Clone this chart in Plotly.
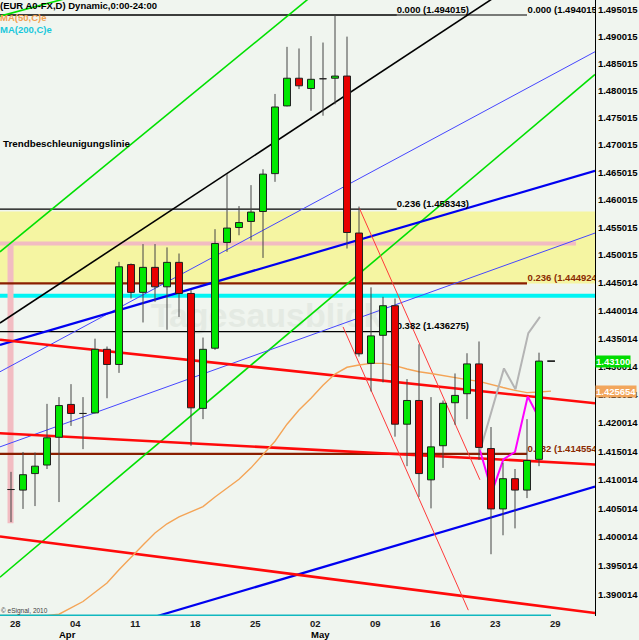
import math
import plotly.graph_objects as go

# ---------------- data ----------------
dates = [
    "2011-03-28", "2011-03-29", "2011-03-30", "2011-03-31", "2011-04-01",
    "2011-04-04", "2011-04-05", "2011-04-06", "2011-04-07", "2011-04-08",
    "2011-04-11", "2011-04-12", "2011-04-13", "2011-04-14", "2011-04-15",
    "2011-04-18", "2011-04-19", "2011-04-20", "2011-04-21", "2011-04-22",
    "2011-04-25", "2011-04-26", "2011-04-27", "2011-04-28", "2011-04-29",
    "2011-05-02", "2011-05-03", "2011-05-04", "2011-05-05", "2011-05-06",
    "2011-05-09", "2011-05-10", "2011-05-11", "2011-05-12", "2011-05-13",
    "2011-05-16", "2011-05-17", "2011-05-18", "2011-05-19", "2011-05-20",
    "2011-05-23", "2011-05-24", "2011-05-25", "2011-05-26", "2011-05-27",
]
prev_session = "2011-03-25"
next_session = "2011-05-30"

opens = [1.4083, 1.4082, 1.4111, 1.4126, 1.4175, 1.4233, 1.4217, 1.4218, 1.4331, 1.4304,
         1.4483, 1.4433, 1.4478, 1.4443, 1.4487, 1.4431, 1.4226, 1.4333, 1.4523, 1.4550,
         1.4561, 1.4579, 1.4648, 1.4772, 1.4823, 1.4804, 1.4822, 1.4823, 1.4827, 1.4540,
         1.4306, 1.4356, 1.4409, 1.4198, 1.4240, 1.4100, 1.4160, 1.4236, 1.4252, 1.4305,
         1.4155, 1.4049, 1.4102, 1.4082, 1.4136]
highs = [1.4114, 1.4149, 1.4148, 1.4234, 1.4246, 1.4269, 1.4246, 1.4350, 1.4336, 1.4488,
         1.4485, 1.4520, 1.4520, 1.4514, 1.4503, 1.4437, 1.4352, 1.4547, 1.4647, 1.4589,
         1.4627, 1.4656, 1.4794, 1.4881, 1.4878, 1.4901, 1.4889, 1.4940, 1.4900, 1.4588,
         1.4442, 1.4425, 1.4422, 1.4278, 1.4340, 1.4246, 1.4240, 1.4288, 1.4324, 1.4345,
         1.4193, 1.4130, 1.4119, 1.4207, 1.4325]
lows = [1.4026, 1.4049, 1.4054, 1.4119, 1.4061, 1.4195, 1.4154, 1.4217, 1.4244, 1.4289,
        1.4422, 1.4379, 1.4416, 1.4366, 1.4389, 1.4160, 1.4207, 1.4330, 1.4506, 1.4536,
        1.4527, 1.4495, 1.4633, 1.4771, 1.4803, 1.4763, 1.4754, 1.4775, 1.4512, 1.4318,
        1.4256, 1.4272, 1.4176, 1.4124, 1.4070, 1.4050, 1.4121, 1.4197, 1.4207, 1.4135,
        1.3970, 1.4003, 1.4015, 1.4068, 1.4124]
closes = [1.4083, 1.4109, 1.4124, 1.4174, 1.4231, 1.4217, 1.4217, 1.4331, 1.4304, 1.4479,
          1.4433, 1.4478, 1.4443, 1.4487, 1.4431, 1.4227, 1.4331, 1.4521, 1.4549, 1.4559,
          1.4578, 1.4647, 1.4770, 1.4823, 1.4809, 1.4821, 1.4822, 1.4827, 1.4541, 1.4323,
          1.4355, 1.4409, 1.4198, 1.4240, 1.4111, 1.4158, 1.4235, 1.4249, 1.4305, 1.4157,
          1.4049, 1.4102, 1.4082, 1.4134, 1.4310]

# MA(50): one value per session slot from the previous session to the next one;
# early values sit on the chart floor
ma50 = [1.3864,
        1.3864, 1.3864, 1.3864, 1.3864, 1.3866, 1.3877, 1.3888, 1.3904, 1.3920, 1.3943,
        1.3965, 1.3986, 1.4007, 1.4023, 1.4035, 1.4044, 1.4053, 1.4070, 1.4086, 1.4101,
        1.4121, 1.4144, 1.4168, 1.4198, 1.4223, 1.4244, 1.4267, 1.4287, 1.4299, 1.4303,
        1.4306, 1.4306, 1.4302, 1.4296, 1.4291, 1.4288, 1.4284, 1.4281, 1.4277, 1.4274,
        1.4268, 1.4263, 1.4258, 1.4254, 1.4255, 1.425654]
# MA(200) is below the visible range and is drawn on the floor
ma200_dates = [prev_session, next_session]
ma200 = [1.3864, 1.3864]

last_price = 1.43100
last_ma50 = 1.425654

tick_dates = ["2011-03-28", "2011-04-04", "2011-04-11", "2011-04-18", "2011-04-25",
              "2011-05-02", "2011-05-09", "2011-05-16", "2011-05-23", "2011-05-30"]
tick_labels = ["28", "04", "11", "18", "25", "02", "09", "16", "23", "29"]

ytick_text = ["1.390014", "1.395014", "1.400014", "1.405014", "1.410014", "1.415014",
              "1.420014", "1.425014", "1.430014", "1.435014", "1.440014", "1.445014",
              "1.450015", "1.455015", "1.460015", "1.465015", "1.470015", "1.475015",
              "1.480015", "1.485015", "1.490015", "1.495015"]

# Fibonacci sets
fib_black_levels = [1.494015, 1.458343, 1.436275]
fib_black_labels = ["0.000 (1.494015)", "0.236 (1.458343)", "0.382 (1.436275)"]
fib_black_end = 32.14
fib_brown_levels = [1.494015, 1.444924, 1.414554]
fib_brown_labels = ["0.000 (1.494015)", "0.236 (1.444924)", "0.382 (1.414554)"]
fib_brown_end = 43.0

yellow_zone = [1.4449, 1.4579]
cyan_level = 1.4427
pink_level = 1.4521
pink_stem = [1.4521, 1.4024]
pink_end = 47.08

# trend lines: anchors (slot position, price)
trend_x = {
    "green_a": [-0.92, 25.75], "green_b": [-0.92, 4.92], "green_c": [-0.92, 48.67],
    "black": [-0.92, 41.17],
    "blue_thin_a": [-0.92, 48.67], "blue_thin_b": [-0.92, 48.67],
    "blue_a": [-0.92, 48.67], "blue_b": [10.75, 48.67],
    "red_a": [-0.92, 48.67], "red_b": [-0.92, 48.67], "red_c": [-0.92, 48.67],
    "red_thin_a": [29.03, 39.08], "red_thin_b": [27.67, 38.11],
}
trend_y = {
    "green_a": [1.4506, 1.4988], "green_b": [1.4938, 1.4973], "green_c": [1.3930, 1.4830],
    "black": [1.4378, 1.4986],
    "blue_thin_a": [1.4291, 1.4872], "blue_thin_b": [1.4158, 1.4540],
    "blue_a": [1.4339, 1.4653], "blue_b": [1.3854, 1.4088],
    "red_a": [1.4348, 1.4235], "red_b": [1.4182, 1.4127], "red_c": [1.4001, 1.3868],
    "red_thin_a": [1.4585, 1.4100], "red_thin_b": [1.4371, 1.3873],
}
magenta_x = [39.08, 40.08, 41.03, 42.0, 43.06, 44.0]
magenta_y = [1.4152, 1.4079, 1.4136, 1.4149, 1.4247, 1.4209]
grey_x = [39.1, 41.08, 42.04, 43.11, 44.08]
grey_y = [1.4152, 1.4297, 1.4260, 1.4360, 1.4389]

# ---------------- styling / layout ----------------
FONT = "Liberation Sans, Arial, sans-serif"
BG = "#F0F5EF"
W, H = 639, 640
PW, PH = 595, 616
XL, XR = -11 / 12, 584 / 12
Y_LO, Y_HI = 1.386295, 1.496808
HALF = 0.29  # half candle body width in slot units

trend_style = {
    "green_a": ("#00E000", 1.6), "green_b": ("#00E000", 1.6), "green_c": ("#00E000", 1.6),
    "black": ("#000000", 1.6),
    "blue_thin_a": ("#4646FF", 1.0), "blue_thin_b": ("#4646FF", 1.0),
    "blue_a": ("#0000F0", 2.2), "blue_b": ("#0000F0", 2.2),
    "red_a": ("#FF0A0A", 2.6), "red_b": ("#FF0A0A", 2.6), "red_c": ("#FF0A0A", 2.6),
    "red_thin_a": ("#FF3A3A", 1.0), "red_thin_b": ("#FF3A3A", 1.0),
}

# session slots: previous session = -1, then one slot per trading day, then next session
all_slots = [prev_session] + dates + [next_session]
slot_of = {d: i - 1 for i, d in enumerate(all_slots)}
candle_pos = [slot_of[d] for d in dates]
ma50_pos = [slot_of[d] for d in all_slots]

fig = go.Figure()

# yellow zone
fig.add_trace(go.Scatter(x=[XL - 1, XR + 1, XR + 1, XL - 1, XL - 1],
                         y=[yellow_zone[0], yellow_zone[0], yellow_zone[1], yellow_zone[1], yellow_zone[0]],
                         mode="lines", fill="toself", fillcolor="#F5F5A2", line=dict(width=0),
                         hoverinfo="skip"))
# watermark
fig.add_trace(go.Scatter(x=[21.3], y=[1.4387], mode="text", text=["Tagesausblick"],
                         textposition="middle center",
                         textfont=dict(family=FONT, size=34, color="#E4EAE3", weight="bold"),
                         hoverinfo="skip"))
# cyan level
fig.add_trace(go.Scatter(x=[XL - 1, XR + 1], y=[cyan_level, cyan_level], mode="lines",
                         line=dict(color="#00F4F4", width=4), hoverinfo="skip"))
# pink lines
fig.add_trace(go.Scatter(x=[XL - 1, pink_end], y=[pink_level, pink_level], mode="lines",
                         line=dict(color="#F2BCC2", width=4), hoverinfo="skip"))
fig.add_trace(go.Scatter(x=[-0.04, -0.04], y=pink_stem, mode="lines",
                         line=dict(color="#F2BCC2", width=6), hoverinfo="skip"))

# fib lines
for lv in fib_black_levels:
    fig.add_trace(go.Scatter(x=[XL - 1, fib_black_end], y=[lv, lv], mode="lines",
                             line=dict(color="#000000", width=1.2), hoverinfo="skip"))
for k, lv in enumerate(fib_brown_levels):
    col = "#000000" if k == 0 else "#8A1E00"
    wid = 1.2 if k == 0 else 2.2
    fig.add_trace(go.Scatter(x=[XL - 1, fib_brown_end], y=[lv, lv], mode="lines",
                             line=dict(color=col, width=wid), hoverinfo="skip"))

# trend lines
for name in trend_x:
    col, wid = trend_style[name]
    fig.add_trace(go.Scatter(x=trend_x[name], y=trend_y[name], mode="lines",
                             line=dict(color=col, width=wid), hoverinfo="skip"))

# moving averages
fig.add_trace(go.Scatter(x=ma50_pos, y=ma50, mode="lines",
                         line=dict(color="#F4A456", width=1.4), hoverinfo="skip"))
fig.add_trace(go.Scatter(x=[slot_of[d] for d in ma200_dates], y=ma200, mode="lines",
                         line=dict(color="#10B8C0", width=2), hoverinfo="skip"))

# projection lines
fig.add_trace(go.Scatter(x=grey_x, y=grey_y, mode="lines",
                         line=dict(color="#B4B4B4", width=2), hoverinfo="skip"))
fig.add_trace(go.Scatter(x=magenta_x, y=magenta_y, mode="lines",
                         line=dict(color="#FF00FF", width=2), hoverinfo="skip"))

# fib labels (drawn below the candles)
lab_font_black = dict(family=FONT, size=9.5, color="#000000", weight="bold")
lab_font_brown = dict(family=FONT, size=9.5, color="#8A2A00", weight="bold")
fig.add_trace(go.Scatter(x=[fib_black_end] * 3, y=fib_black_levels, mode="text",
                         text=fib_black_labels, textposition="top right",
                         textfont=lab_font_black, hoverinfo="skip"))
fig.add_trace(go.Scatter(x=[fib_brown_end + 0.05], y=fib_brown_levels[:1], mode="text",
                         text=fib_brown_labels[:1], textposition="top right",
                         textfont=lab_font_black, hoverinfo="skip"))
fig.add_trace(go.Scatter(x=[fib_brown_end + 0.05] * 2, y=fib_brown_levels[1:], mode="text",
                         text=fib_brown_labels[1:], textposition="top right",
                         textfont=lab_font_brown, hoverinfo="skip"))

# candles: wicks, then bodies (scatter so they stack above the drawn lines)
wx, wy = [], []
for p, hi, lo in zip(candle_pos, highs, lows):
    wx += [p, p, None]
    wy += [lo, hi, None]
fig.add_trace(go.Scatter(x=wx, y=wy, mode="lines", line=dict(color="#454545", width=1),
                         hoverinfo="skip"))

ux, uy, dx, dy = [], [], [], []
for p, o, c in zip(candle_pos, opens, closes):
    xs = [p - HALF, p + HALF, p + HALF, p - HALF, p - HALF, None]
    ys = [o, o, c, c, o, None]
    if c > o:
        ux += xs
        uy += ys
    else:
        dx += xs
        dy += ys
fig.add_trace(go.Scatter(x=ux, y=uy, mode="lines", fill="toself", fillcolor="#00E800",
                         line=dict(color="#202020", width=1), hoverinfo="skip"))
fig.add_trace(go.Scatter(x=dx, y=dy, mode="lines", fill="toself", fillcolor="#E80000",
                         line=dict(color="#202020", width=1), hoverinfo="skip"))

# last price tick
last_slot = candle_pos[-1]
fig.add_trace(go.Scatter(x=[last_slot + 0.69, last_slot + 1.33], y=[last_price, last_price],
                         mode="lines", line=dict(color="#000000", width=1.5), hoverinfo="skip"))


def py(Y):
    return 1 - Y / PH


ann_font = dict(family=FONT, size=9.5, color="#000000", weight="bold")
annotations = [
    dict(xref="paper", yref="paper", x=0, y=py(5.5), xanchor="left", yanchor="middle",
         xshift=-2, text="(EUR A0-FX,D) Dynamic,0:00-24:00", showarrow=False, font=ann_font),
    dict(xref="paper", yref="paper", x=0, y=py(17.5), xanchor="left", yanchor="middle",
         xshift=-2, text="MA(50,C)e", showarrow=False,
         font=dict(family=FONT, size=9.5, color="#F2A050", weight="bold")),
    dict(xref="paper", yref="paper", x=0, y=py(30), xanchor="left", yanchor="middle",
         xshift=-2, text="MA(200,C)e", showarrow=False,
         font=dict(family=FONT, size=9.5, color="#18C8DC", weight="bold")),
    dict(xref="paper", yref="paper", x=1 / PW, y=py(143.5), xanchor="left", yanchor="middle",
         text="Trendbeschleunigungslinie", showarrow=False,
         font=dict(family=FONT, size=9.8, color="#000000", weight="bold")),
    dict(xref="paper", yref="paper", x=0, y=py(610.5), xanchor="left", yanchor="middle",
         xshift=-1, text="© eSignal, 2010", showarrow=False,
         font=dict(family=FONT, size=6.5, color="#404040")),
    dict(xref="paper", yref="paper", x=67.5 / PW, y=py(634), xanchor="center", yanchor="middle",
         text="Apr", showarrow=False, font=ann_font),
    dict(xref="paper", yref="paper", x=320.5 / PW, y=py(634), xanchor="center", yanchor="middle",
         text="May", showarrow=False, font=ann_font),
    dict(xref="paper", yref="y", x=1, y=math.log10(last_price), xanchor="left", yanchor="middle",
         xshift=0, text="1.43100", showarrow=False, bgcolor="#00DC00", borderpad=0,
         font=dict(family=FONT, size=9.5, color="#FFFFFF", weight="bold")),
    dict(xref="paper", yref="y", x=1, y=math.log10(last_ma50), xanchor="left", yanchor="middle",
         xshift=0, text="1.425654", showarrow=False, bgcolor="#F2A65C", borderpad=0,
         font=dict(family=FONT, size=9.5, color="#FFFFFF", weight="bold")),
]

fig.update_layout(
    width=W, height=H, margin=dict(l=0, r=W - PW, t=0, b=H - PH),
    paper_bgcolor=BG, plot_bgcolor=BG, showlegend=False, hovermode=False,
    annotations=annotations,
    xaxis=dict(range=[XL, XR], tickvals=[slot_of[d] + 0.35 for d in tick_dates],
               ticktext=tick_labels,
               showgrid=False, zeroline=False, showline=False, ticks="",
               tickfont=dict(family=FONT, size=9.5, color="#1A1A1A", weight="bold"),
               fixedrange=True),
    yaxis=dict(type="log", range=[math.log10(Y_LO), math.log10(Y_HI)], side="right",
               tickvals=[float(s) for s in ytick_text], ticktext=ytick_text,
               showgrid=False, zeroline=False, showline=True, linecolor="#000000", linewidth=1,
               ticks="", tickfont=dict(family=FONT, size=9.5, color="#000000", weight="bold"),
               fixedrange=True),
)

fig.write_html(
    "out.html",
    config={"displayModeBar": False, "staticPlot": True},
    post_script="document.body.style.margin='0px';document.body.style.padding='0px';"
                "document.body.style.overflow='hidden';"
                "document.body.style.background='" + BG + "';",
)
